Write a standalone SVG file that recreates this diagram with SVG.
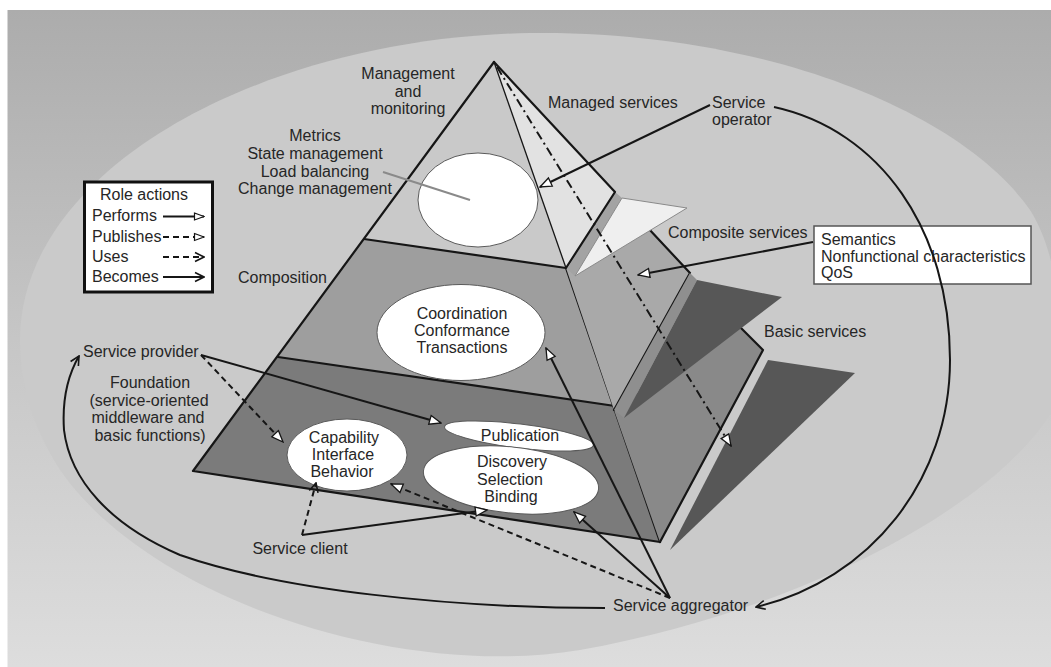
<svg xmlns="http://www.w3.org/2000/svg" width="1051" height="667" viewBox="0 0 1051 667">
<style>
text{font-family:"Liberation Sans",Arial,sans-serif;font-size:16px;fill:#262626}
.c{text-anchor:middle}
.edge{stroke:#161616;stroke-width:2.2;fill:none;stroke-linejoin:round;stroke-linecap:round}
.thin{stroke:#161616;stroke-width:1.3;fill:none}
.bub{fill:#fff;stroke:#5a5a5a;stroke-width:1}
.ln{stroke:#161616;stroke-width:2;fill:none}
.perf{marker-end:url(#tri)}
.chv{marker-end:url(#chev)}
.dash{stroke-dasharray:6 4}
.dd{stroke-dasharray:9 4 2 4}
</style>
<defs>
<linearGradient id="bg" x1="0" y1="0" x2="0" y2="1">
<stop offset="0" stop-color="#acacac"/>
<stop offset="0.5" stop-color="#c6c6c6"/>
<stop offset="1" stop-color="#dddddd"/>
</linearGradient>
<marker id="tri" viewBox="0 0 14 12" refX="13" refY="6" markerWidth="14" markerHeight="12" markerUnits="userSpaceOnUse" orient="auto"><path d="M1.5,1.5 L13,6 L1.5,10.5 Z" fill="#fff" stroke="#161616" stroke-width="1.3"/></marker>
<marker id="tris" viewBox="0 0 12 10" refX="11" refY="5" markerWidth="12" markerHeight="10" markerUnits="userSpaceOnUse" orient="auto"><path d="M1.5,1.5 L11,5 L1.5,8.5 Z" fill="#fff" stroke="#161616" stroke-width="1.2"/></marker>
<marker id="chev" viewBox="0 0 12 12" refX="11" refY="6" markerWidth="12" markerHeight="12" markerUnits="userSpaceOnUse" orient="auto"><path d="M2,1.5 L11,6 L2,10.5" fill="none" stroke="#161616" stroke-width="1.6"/></marker>
</defs>

<g id="background">
<rect x="0" y="0" width="1051" height="667" fill="#ffffff"/>
<rect x="7.5" y="10" width="1043.5" height="657" fill="url(#bg)"/>
<path d="M20 340 C20 170 260 38 530 33 C760 30 960 110 1030 210 C1065 265 1065 360 1051 413 C990 510 800 610 580 650 C400 680 150 600 60 470 C35 430 20 390 20 340 Z" fill="#cacaca"/>
</g>

<g id="pyramid">
<polygon points="494,62 364,239 566,268" fill="#c9c9c9"/>
<polygon points="364,239 278,357 615,406 566,268" fill="#9e9e9e"/>
<polygon points="278,357 193,471 660,542 615,406" fill="#7b7b7b"/>
<polyline class="edge" points="494,62 193,471 660,542"/>
<line class="edge" x1="364" y1="239" x2="566" y2="268"/>
<line class="edge" x1="278" y1="357" x2="615" y2="406"/>
<line class="edge" x1="566" y1="268" x2="660" y2="542"/>

<polygon points="614,410 735,322 763,350 660,542" fill="#898989"/>
<polyline class="edge" points="735,322 763,350 660,542"/>
<polygon points="566,268 648,228 690,273 614,410" fill="#a9a9a9"/>
<polyline class="edge" points="648,228 690,273 614,410"/>
<polygon points="690,273 697,280 624,418 614,410" fill="#8f8f8f"/>
<polygon points="697,280 782,297 624,418" fill="#575757"/>
<polygon points="768,360 855,373 670,550" fill="#575757"/>

<polygon points="494,62 615,192 566,268" fill="#e2e2e2"/>
<polygon points="615,192 622,198 575,276 567,269" fill="#a3a3a3"/>
<polygon points="622,198 687,208 575,276" fill="#efefef" stroke="#8a8a8a" stroke-width="1"/>
<line class="thin" x1="494" y1="62" x2="566" y2="268"/>
<polyline class="edge" points="494,62 615,192 566,268"/>
</g>

<g id="management">
<text class="c" x="408" y="79">Management</text>
<text class="c" x="408" y="97">and</text>
<text class="c" x="408" y="114">monitoring</text>
</g>

<g id="metrics">
<ellipse class="bub" cx="478" cy="200" rx="60" ry="47"/>
<line x1="383" y1="172" x2="470" y2="200" stroke="#8a8a8a" stroke-width="2"/>
<text class="c" x="315" y="141">Metrics</text>
<text class="c" x="315" y="159">State management</text>
<text class="c" x="315" y="177">Load balancing</text>
<text class="c" x="315" y="194">Change management</text>
</g>

<g id="managed-services"><text x="548" y="108">Managed services</text></g>
<g id="service-operator">
<text x="712" y="108">Service</text>
<text x="712" y="125">operator</text>
</g>

<g id="legend">
<rect x="84.5" y="182" width="128" height="110" fill="#fff" stroke="#111" stroke-width="3"/>
<text class="c" x="144" y="200">Role actions</text>
<text x="92" y="221">Performs</text>
<text x="92" y="242">Publishes</text>
<text x="92" y="262">Uses</text>
<text x="92" y="282">Becomes</text>
<line class="ln" x1="163" y1="216.5" x2="204" y2="216.5" marker-end="url(#tris)"/>
<line class="ln dash" x1="163" y1="237" x2="204" y2="237" marker-end="url(#tris)"/>
<line class="ln dash" x1="163" y1="257" x2="204" y2="257" marker-end="url(#chev)"/>
<line class="ln" x1="163" y1="277" x2="204" y2="277" marker-end="url(#chev)"/>
</g>

<g id="composition"><text x="238" y="283">Composition</text></g>
<g id="composite-services"><text x="668" y="238">Composite services</text></g>
<g id="semantics">
<rect x="814" y="226" width="217" height="58" fill="#fff" stroke="#555" stroke-width="1.5"/>
<text x="821" y="245">Semantics</text>
<text x="821" y="262">Nonfunctional characteristics</text>
<text x="821" y="278">QoS</text>
</g>
<g id="basic-services"><text x="764" y="337">Basic services</text></g>

<g id="coordination">
<ellipse class="bub" cx="461" cy="332.5" rx="84" ry="48"/>
<text class="c" x="462" y="319">Coordination</text>
<text class="c" x="462" y="336">Conformance</text>
<text class="c" x="462" y="353">Transactions</text>
</g>

<g id="service-provider"><text x="83" y="357">Service provider</text></g>
<g id="foundation">
<text class="c" x="150" y="388">Foundation</text>
<text class="c" x="149" y="406">(service-oriented</text>
<text class="c" x="148" y="423">middleware and</text>
<text class="c" x="150" y="441">basic functions)</text>
</g>

<g id="capability">
<ellipse class="bub" cx="347" cy="455" rx="60" ry="36"/>
<text class="c" x="344" y="443">Capability</text>
<text class="c" x="343" y="460">Interface</text>
<text class="c" x="342" y="477">Behavior</text>
</g>
<g id="publication">
<ellipse class="bub" cx="519" cy="436" rx="75" ry="12" transform="rotate(7 519 436)"/>
<text class="c" x="520" y="441">Publication</text>
</g>
<g id="discovery">
<ellipse class="bub" cx="511" cy="480" rx="88" ry="33" transform="rotate(6 511 480)"/>
<text class="c" x="512" y="467">Discovery</text>
<text class="c" x="510" y="485">Selection</text>
<text class="c" x="511" y="502">Binding</text>
</g>

<g id="service-client"><text class="c" x="300" y="554">Service client</text></g>
<g id="service-aggregator"><text x="613" y="611">Service aggregator</text></g>

<g id="connectors">
<line class="ln perf" x1="710" y1="105" x2="540" y2="187"/>
<path class="ln chv" d="M774 107 C880 130 950 230 950 360 C950 480 870 580 756 607"/>
<line class="ln perf" x1="813" y1="242" x2="638" y2="275"/>
<line class="ln dd perf" x1="497" y1="67" x2="731" y2="446"/>
<line class="ln perf" x1="201" y1="355" x2="441" y2="423"/>
<line class="ln dash perf" x1="201" y1="355" x2="283" y2="442"/>
<line class="ln perf" x1="302" y1="535" x2="487" y2="510"/>
<line class="ln dash chv" x1="302" y1="535" x2="316" y2="483"/>
<line class="ln perf" x1="670" y1="598" x2="546" y2="348"/>
<line class="ln perf" x1="670" y1="598" x2="574" y2="512"/>
<line class="ln dash perf" x1="670" y1="598" x2="391" y2="484"/>
<path class="ln chv" d="M605 608 C450 608 280 590 180 555 C110 525 70 480 64 430 C62 400 68 375 79 356"/>
</g>
</svg>
